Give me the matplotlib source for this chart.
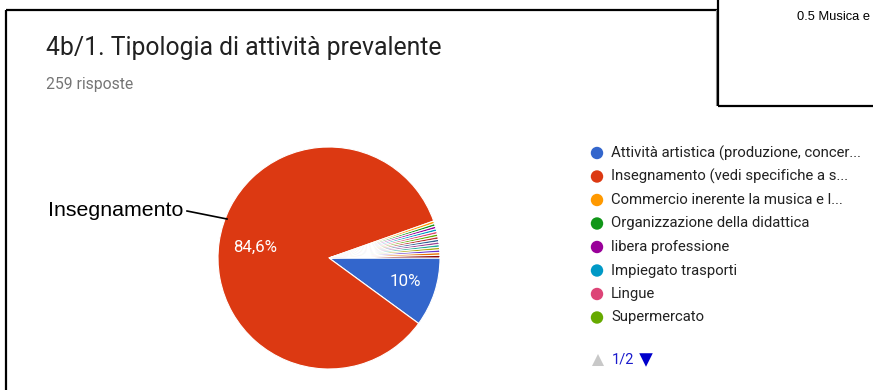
import matplotlib
matplotlib.use("Agg")
import matplotlib.pyplot as plt

# ---- data ----
title = "4b/1. Tipologia di attività prevalente"
subtitle = "259 risposte"
categories = [
    "Attività artistica (produzione, concer...",
    "Insegnamento (vedi specifiche a s...",
    "Commercio inerente la musica e l...",
    "Organizzazione della didattica",
    "libera professione",
    "Impiegato trasporti",
    "Lingue",
    "Supermercato",
]
main_values = [26, 219]            # Attività artistica, Insegnamento
minor_values = [1] * 14            # remaining small answers (1 response each)
values = main_values + minor_values
colors = ["#3366cc", "#dc3912", "#ff9900", "#109618", "#990099", "#0099c6",
          "#dd4477", "#66aa00", "#b82e2e", "#316395", "#994499", "#22aa99",
          "#aaaa11", "#6633cc", "#e67300", "#8b0707"]
pct_labels = ["10%", "84,6%"]
page_label = "1/2"

W, H = 873, 390
fig = plt.figure(figsize=(W / 100, H / 100), dpi=100)
ax = fig.add_axes([0, 0, 1, 1])

def Y(y):
    return H - y

# pie
cx, cy, r = 329, Y(258), 111
wedges, _ = ax.pie(values, colors=colors[:len(values)], startangle=0,
                   counterclock=False, center=(cx, cy), radius=r,
                   wedgeprops=dict(edgecolor="white", linewidth=0.8),
                   frame=True)
ax.set_xlim(0, W)
ax.set_ylim(0, H)
ax.set_aspect("equal")
ax.axis("off")

# frame lines of the pasted screenshot
ax.plot([6, 6], [Y(10), Y(392)], color="black", lw=1.6, solid_capstyle="butt")
ax.plot([6, 718], [Y(10), Y(10)], color="black", lw=1.6, solid_capstyle="butt")
ax.plot([716, 716], [Y(10), Y(105)], color="#999999", lw=0.8)
ax.plot([718, 718], [Y(-2), Y(106)], color="black", lw=1.6, solid_capstyle="butt")
ax.plot([718, 875], [Y(106), Y(106)], color="black", lw=1.6, solid_capstyle="butt")
ax.text(797, Y(17), "0.5 Musica e", fontsize=9.3, family="Liberation Sans",
        color="black", va="center", ha="left", clip_on=True)

# title
ax.text(46, Y(48), title, fontsize=17.8, family="Roboto", color="#212121",
        va="center", ha="left")
ax.text(46, Y(84), subtitle, fontsize=11.3, family="Roboto", color="#757575",
        va="center", ha="left")

ax.text(405, Y(281), pct_labels[0], fontsize=12.2, family="Roboto",
        color="white", va="center", ha="center")
ax.text(255, Y(247), pct_labels[1], fontsize=12.2, family="Roboto",
        color="white", va="center", ha="center")

# external label
ax.text(48, Y(210), "Insegnamento", fontsize=15.4, family="Liberation Sans",
        color="black", va="center", ha="left")
ax.plot([187, 227], [Y(211), Y(219)], color="black", lw=1.2)

# legend (page 1)
y0, dy = 153, 23.5
for i, name in enumerate(categories):
    yy = Y(y0 + i * dy)
    ax.scatter([597], [yy], s=80, color=colors[i], edgecolors="none")
    ax.text(611, yy, name, fontsize=10.7, family="Roboto", color="#222222",
            va="center", ha="left")

# pager
ax.scatter([598], [Y(360)], marker="^", s=75, color="#c8c8c8", edgecolors="none")
ax.text(612, Y(360), page_label, fontsize=10.5, family="Roboto", color="#1a1acc",
        va="center", ha="left")
ax.scatter([646], [Y(360)], marker="v", s=95, color="#0000cc", edgecolors="none")

fig.savefig("out.png", dpi=100, facecolor="white")
